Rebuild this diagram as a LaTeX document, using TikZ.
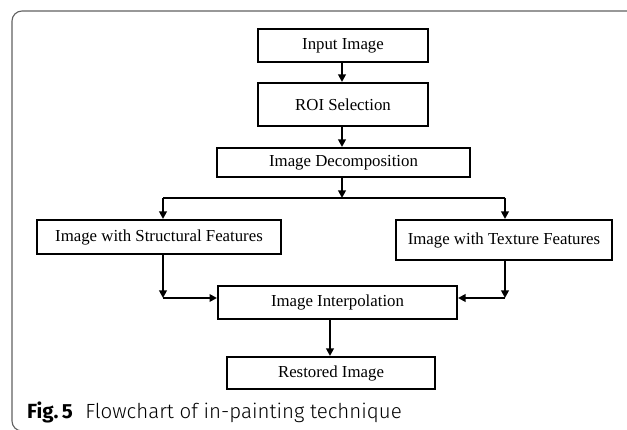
\documentclass[tikz,border=0pt]{standalone}
\usepackage{fontspec}
\setmainfont{Liberation Serif}
\newfontfamily\capfont{Fira Sans}[UprightFont=* Light, BoldFont=* Bold]
\usetikzlibrary{arrows.meta}
\begin{document}
\begin{tikzpicture}[x=1pt,y=-1pt,
  stepbox/.style={draw, line width=2pt, inner sep=0pt, anchor=north west,
    font=\fontsize{16.8}{20}\selectfont},
  link/.style={line width=2pt, -{Triangle[length=7.5pt,width=7.5pt]}},
  wire/.style={line width=2pt}]
\useasboundingbox (0,0) rectangle (627,430);
\clip (0,0) rectangle (627,430);
% outer frame
\draw[line width=1.1pt, black!62, rounded corners=10pt]
  (640,11) -- (12,11) -- (12,431) -- (640,431);
% boxes, placed by their top-left corners
\node[stepbox, minimum width=170pt, minimum height=33pt] (in) at (257,28) {Input Image};
\node[stepbox, minimum width=170pt, minimum height=43pt] (roi) at (257,82) {ROI Selection};
\node[stepbox, minimum width=253pt, minimum height=29pt] (dec) at (216,147) {Image Decomposition};
\node[stepbox, minimum width=244pt, minimum height=34pt] (st) at (36,219) {Image with Structural Features};
\node[stepbox, minimum width=216pt, minimum height=40pt] (tx) at (395,219) {Image with Texture Features};
\node[stepbox, minimum width=239pt, minimum height=33pt] (ip) at (217,285) {Image Interpolation};
\node[stepbox, minimum width=208pt, minimum height=32pt] (rs) at (226,356) {Restored Image};
% junction points
\coordinate (br) at (342,198);
\coordinate (bl) at (163,198);
\coordinate (bt) at (505,198);
\coordinate (jl) at (163,298);
\coordinate (jr) at (505,298);
\coordinate (dn) at (330,318);
% connectors
\draw[link] (in.south -| br) -- (roi.north -| br);
\draw[link] (roi.south -| br) -- (dec.north -| br);
\draw[link] (dec.south -| br) -- (br);
\draw[wire] (bl) -- (bt);
\draw[link] (bl) -- (bl |- st.north);
\draw[link] (bt) -- (bt |- tx.north);
\draw[link] (bl |- st.south) -- (jl);
\draw[link] (jl) -- (jl -| ip.west);
\draw[link] (bt |- tx.south) -- (jr);
\draw[link] (jr) -- (jr -| ip.east);
\draw[link] (dn |- ip.south) -- (dn |- rs.north);
% caption
\node[anchor=base west, inner sep=0pt, font=\capfont\fontsize{20.5}{24}\selectfont] (cap) at (27,418)
  {\textbf{Fig.\,5}\hspace{0.6em}Flowchart of in-painting technique};
\end{tikzpicture}
\end{document}
